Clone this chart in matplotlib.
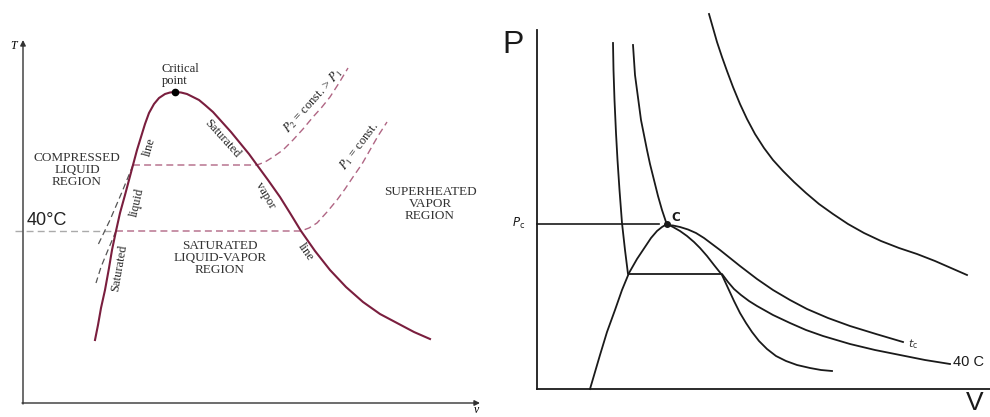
import numpy as np
import matplotlib.pyplot as plt

plt.rcParams['mathtext.fontset'] = 'stix'

# ---- left panel: T-v diagram (pixel coords of the sketch) ----
dome_x = [95, 98, 101, 105, 109, 112, 116, 120, 125, 129, 133, 137, 141,
          145, 149, 154, 159, 165, 170, 175, 181, 187, 193, 199, 205, 213,
          222, 231, 240, 249, 257, 268, 280, 290, 301, 315, 330, 346, 363,
          380, 397, 414, 430]
dome_y = [340, 325, 308, 290, 268, 250, 231, 213, 195, 180, 165, 150, 137,
          124, 113, 104, 98, 94, 92.5, 92, 92.5, 94, 97, 100, 105, 112,
          122, 132, 143, 154, 165, 180, 197, 213, 231, 251, 270, 287, 302,
          314, 323, 332, 339]

p2_x = [133, 257, 265, 273, 283, 293, 303, 313, 322, 330, 339, 348]
p2_y = [165, 165, 162, 157, 150, 140, 129, 117, 107, 97, 83, 68]

p1_x = [116, 301, 309, 317, 327, 337, 345, 353, 362, 370, 378, 387]
p1_y = [231, 231, 228, 223, 212, 200, 189, 177, 164, 150, 136, 122]

comp_a_x = [133, 122, 110, 97]
comp_a_y = [165, 192, 220, 247]
comp_b_x = [116, 108, 101, 96]
comp_b_y = [231, 250, 267, 283]

t40_x = [15, 116]
t40_y = [231, 231]

# ---- right panel: P-V diagram ----
rdome_x = [590, 595, 600, 607, 615, 622, 629, 637, 645, 651, 657, 662,
           667, 673, 680, 687, 694, 700, 707, 714, 722, 728, 734, 740,
           746, 752, 759, 767, 776, 786, 797, 810, 821, 832]
rdome_y = [389, 372, 355, 332, 310, 290, 273, 259, 247, 238, 231, 227,
           224, 227, 231, 236, 242, 248, 256, 265, 275, 288, 301, 313,
           323, 332, 341, 349, 356, 361, 365, 368, 370, 371]

iso40_x = [613, 613.5, 614.5, 616, 617.5, 619.5, 622, 625, 628, 722, 728,
           734, 741, 749, 757, 773, 790, 806, 823, 850, 875, 900, 925, 950]
iso40_y = [43, 70, 100, 133, 160, 190, 223, 250, 274, 274, 282,
           289, 295, 301, 306, 315, 323, 330, 336, 344, 350, 355, 360, 364]

isoc_x = [633, 634, 635, 637, 639, 641, 644, 647, 650, 654, 658, 662,
          667, 673, 680, 688, 696, 704, 712, 720, 730, 740, 757, 773,
          790, 807, 828, 850, 876, 903]
isoc_y = [45, 60, 75, 90, 105, 120, 135, 150, 164, 180, 196, 210,
          225, 225.5, 227, 229.5, 233, 238, 244, 250, 258, 266, 279, 290,
          300, 309, 318, 326, 334, 342]

hyp_x = [709, 713, 717, 722, 727, 733, 740, 747, 755, 764, 773, 783,
         794, 806, 819, 833, 848, 864, 881, 899, 917, 935, 951, 967]
hyp_y = [14, 28, 42, 57, 71, 87, 104, 119, 134, 148, 160, 171,
         182, 193, 204, 214, 224, 233, 241, 248, 254, 261, 268, 275]

maroon = '#7a1e3e'
pink = '#b06684'

fig = plt.figure(figsize=(9.9, 4.17), dpi=100)
ax = fig.add_axes([0, 0, 1, 1])
ax.set_xlim(0, 990)
ax.set_ylim(417, 0)
ax.axis('off')

# left axes with arrows
ax.annotate('', xy=(23, 40), xytext=(23, 404),
            arrowprops=dict(arrowstyle='-|>', lw=1.0, color='#333333',
                            mutation_scale=8, shrinkA=0, shrinkB=0))
ax.annotate('', xy=(480, 403), xytext=(22, 403),
            arrowprops=dict(arrowstyle='-|>', lw=1.0, color='#333333',
                            mutation_scale=8, shrinkA=0, shrinkB=0))

ax.plot(t40_x, t40_y, color='#aaaaaa', lw=1.0, dashes=(5, 3))
ax.plot(p2_x, p2_y, color=pink, lw=1.0, dashes=(5, 3))
ax.plot(p1_x, p1_y, color=pink, lw=1.0, dashes=(5, 3))
ax.plot(comp_a_x, comp_a_y, color='#555555', lw=0.9, dashes=(5, 3))
ax.plot(comp_b_x, comp_b_y, color='#555555', lw=0.9, dashes=(5, 3))
ax.plot(dome_x, dome_y, color=maroon, lw=1.5, solid_joinstyle='round')
ax.plot([175], [92], 'o', color='k', ms=4.5)

serif = 'Liberation Serif'
ax.text(13, 46, 'T', family=serif, style='italic', fontsize=8.5,
        ha='center', va='center')
ax.text(476, 410, 'v', family=serif, style='italic', fontsize=8.5,
        ha='center', va='center')
ax.text(162, 75, 'Critical\npoint', family=serif, fontsize=9, ha='left',
        va='center', linespacing=1.1, color='#222222')
ax.text(77, 170, 'COMPRESSED\nLIQUID\nREGION', family=serif, fontsize=9.5,
        ha='center', va='center', linespacing=1.0, color='#333333')
ax.text(220, 258, 'SATURATED\nLIQUID-VAPOR\nREGION', family=serif,
        fontsize=9.5, ha='center', va='center', linespacing=1.0,
        color='#333333')
ax.text(430, 204, 'SUPERHEATED\nVAPOR\nREGION', family=serif, fontsize=9.5,
        ha='center', va='center', linespacing=1.0, color='#333333')
ax.text(27, 220, '40°C', family='Liberation Sans', fontsize=13,
        ha='left', va='center', color='#222222')

rot_labels = [
    ('line', 149, 147, 74),
    ('liquid', 137, 202, 77),
    ('Saturated', 119, 268, 80),
    ('Saturated', 222, 139, -48),
    ('vapor', 265, 195, -60),
    ('line', 306, 252, -55),
]
for s, x, y, r in rot_labels:
    ax.text(x, y, s, family=serif, fontsize=9, rotation=r,
            rotation_mode='anchor', ha='center', va='center',
            color='#222222')

ax.text(313, 101, r'$P_2$ = const. > $P_1$', family=serif, fontsize=9,
        rotation=48, rotation_mode='anchor', ha='center', va='center',
        color='#222222')
ax.text(359, 146, r'$P_1$ = const.', family=serif, fontsize=9,
        rotation=53, rotation_mode='anchor', ha='center', va='center',
        color='#222222')

# right axes
ink = '#1a1a1a'
ax.plot([537, 537], [30, 389], color=ink, lw=1.3)
ax.plot([537, 990], [389, 389], color=ink, lw=1.3)
ax.plot([537, 659], [224, 224], color=ink, lw=1.2)

for xs, ys in [(rdome_x, rdome_y), (iso40_x, iso40_y),
               (isoc_x, isoc_y), (hyp_x, hyp_y)]:
    ax.plot(xs, ys, color=ink, lw=1.3, solid_joinstyle='round')
ax.plot([667], [224], 'o', color=ink, ms=4)

ax.text(513, 45, 'P', family='Liberation Sans', fontsize=23,
        ha='center', va='center', color=ink)
ax.text(966, 415, 'V', family='Liberation Sans', fontsize=19,
        ha='left', va='bottom', color=ink)
ax.text(519, 223, r'$P_\mathrm{c}$', math_fontfamily='dejavusans',
        fontsize=8.5, ha='center', va='center', color=ink)
ax.text(671, 217, 'C', family='DejaVu Sans', fontweight='bold',
        fontsize=8.5, ha='left', va='center', color=ink)
ax.text(908, 344, r'$t_\mathrm{c}$', math_fontfamily='dejavusans',
        fontsize=8, ha='left', va='center', color='#333333')
ax.text(953, 362, '40 C', family='Liberation Sans', fontsize=10.5,
        ha='left', va='center', color=ink)

fig.savefig('out.png', dpi=100)
